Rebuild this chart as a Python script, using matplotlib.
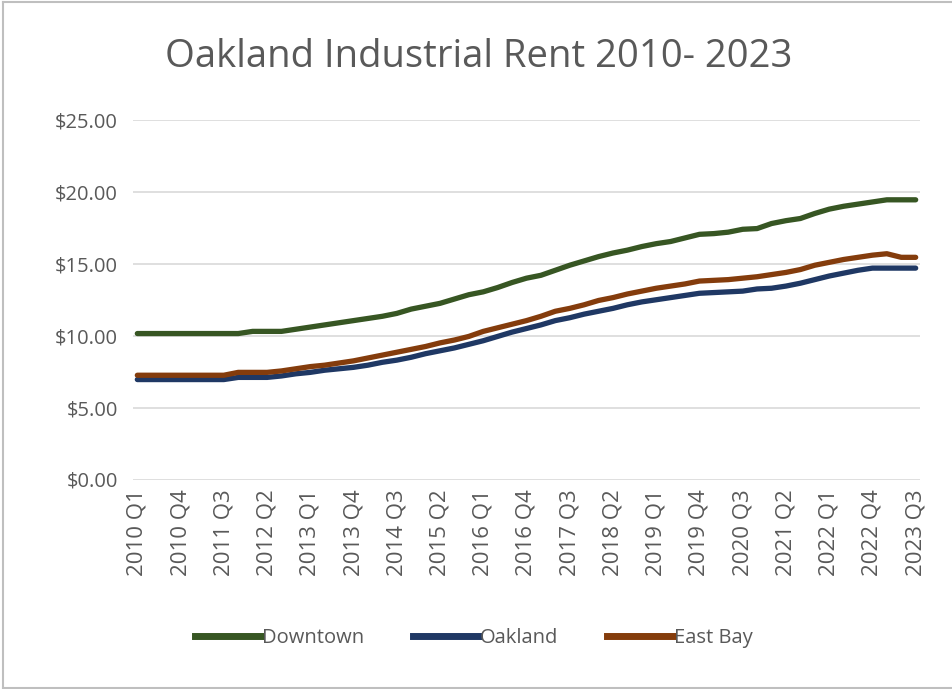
import matplotlib.pyplot as plt
from matplotlib.lines import Line2D
from matplotlib.ticker import FuncFormatter

# quarterly asking rent, $/sf/yr, 2010 Q1 .. 2023 Q3
quarters = [f"{y} Q{q}" for y in range(2010, 2024) for q in range(1, 5)][:55]

downtown = [10.15, 10.15, 10.15, 10.15, 10.15, 10.15, 10.15, 10.15,
            10.3, 10.3, 10.3, 10.45, 10.6, 10.75, 10.9, 11.05, 11.2, 11.35,
            11.55, 11.85, 12.05, 12.25, 12.55, 12.85, 13.05, 13.35, 13.7,
            14.0, 14.2, 14.55, 14.9, 15.2, 15.5, 15.75, 15.95, 16.2, 16.4,
            16.55, 16.8, 17.05, 17.1, 17.2, 17.4, 17.45, 17.8, 18.0, 18.15,
            18.5, 18.8, 19.0, 19.15, 19.3, 19.45, 19.45, 19.45]

oakland = [6.95, 6.95, 6.95, 6.95, 6.95, 6.95, 6.95, 7.1, 7.1, 7.1,
           7.2, 7.35, 7.45, 7.6, 7.7, 7.8, 7.95, 8.15, 8.3, 8.5, 8.75,
           8.95, 9.15, 9.4, 9.65, 9.95, 10.25, 10.5, 10.75, 11.05, 11.25,
           11.5, 11.7, 11.9, 12.15, 12.35, 12.5, 12.65, 12.8, 12.95, 13.0,
           13.05, 13.1, 13.25, 13.3, 13.45, 13.65, 13.9, 14.15, 14.35,
           14.55, 14.7, 14.7, 14.7, 14.7]

east_bay = [7.25, 7.25, 7.25, 7.25, 7.25, 7.25, 7.25, 7.45, 7.45, 7.45,
            7.55, 7.7, 7.85, 7.95, 8.1, 8.25, 8.45, 8.65, 8.85, 9.05, 9.25,
            9.5, 9.7, 9.95, 10.3, 10.55, 10.8, 11.05, 11.35, 11.7, 11.9,
            12.15, 12.45, 12.65, 12.9, 13.1, 13.3, 13.45, 13.6, 13.8, 13.85,
            13.9, 14.0, 14.1, 14.25, 14.4, 14.6, 14.9, 15.1, 15.3, 15.45,
            15.6, 15.7, 15.45, 15.45]

series = [("Downtown", downtown, "#375623"),
          ("Oakland", oakland, "#1f3864"),
          ("East Bay", east_bay, "#843c0c")]

plt.rcParams['font.family'] = ['Open Sans', 'DejaVu Sans']
txt = "#595959"

fig = plt.figure(figsize=(9.53, 6.89), dpi=100)
ax = fig.add_axes([133 / 953, 1 - 479.5 / 689, (920 - 133) / 953, (479.5 - 120) / 689])

x = list(range(len(quarters)))
for name, vals, col in series:
    ax.plot(x, vals, color=col, lw=3.8, solid_capstyle='round', label=name, zorder=3)

ax.set_ylim(0, 25)
ax.set_yticks([0, 5, 10, 15, 20, 25])
ax.yaxis.set_major_formatter(FuncFormatter(lambda v, p: f"${v:.2f}"))
ax.set_xlim(-0.3, 54.3)
ax.set_xticks(x[::3])
ax.set_xticklabels(quarters[::3], rotation=90)
ax.tick_params(axis='both', length=0, colors=txt)
ax.tick_params(axis='y', pad=11, labelsize=14.5)
ax.tick_params(axis='x', pad=7, labelsize=16)
ax.grid(axis='y', color='#d9d9d9', lw=1.2)
for s in ax.spines.values():
    s.set_visible(False)

fig.text(479 / 953, 1 - 57 / 689, "Oakland Industrial Rent 2010- 2023",
         ha='center', va='center', fontsize=27.5, color=txt)

handles = [Line2D([0], [0], color=c, lw=5) for _, _, c in series]
fig.legend(handles, [n for n, _, _ in series], loc='center',
           bbox_to_anchor=(474 / 953, 1 - 638 / 689), ncol=3, frameon=False,
           fontsize=14.5, labelcolor=txt, handlelength=3.3, handletextpad=0.05,
           columnspacing=2.4)

# thin frame around the chart area
for xs, ys in [([0.003, 0.003], [0.002, 0.997]), ([0.003, 1], [0.997, 0.997]),
               ([0.003, 1], [0.002, 0.002])]:
    fig.add_artist(Line2D(xs, ys, color='#bfbfbf', lw=1.5, transform=fig.transFigure))

fig.savefig("out.png", dpi=100, facecolor='white')
